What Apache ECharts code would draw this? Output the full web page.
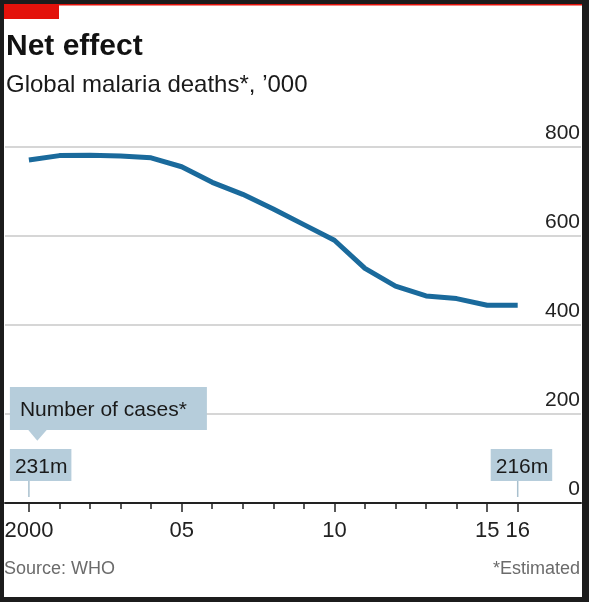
<!DOCTYPE html>
<html>
<head>
<meta charset="utf-8">
<script src="https://cdn.jsdelivr.net/npm/echarts@6/dist/echarts.min.js"></script>
<style>
  html, body { margin:0; padding:0; background:#1c1c1c; width:589px; height:602px; overflow:hidden; }
  #paper { position:absolute; left:4px; top:4px; width:578px; height:593px; background:#ffffff; }
  #chart { position:absolute; left:0; top:0; width:589px; height:602px; }
</style>
</head>
<body>
<div id="paper"></div>
<div id="chart"></div>
<script>
// ---- data ----
const years = ['2000','2001','2002','2003','2004','2005','2006','2007','2008','2009','2010','2011','2012','2013','2014','2015','2016'];
const deaths = [770, 780, 781, 779, 775, 755, 720, 693, 660, 625, 590, 527, 487, 465, 459, 444, 444];
const labeledYears = ['2000','2005','2010','2015','2016'];
const yMin = 0, yMax = 800, yStep = 200;
const titleText = 'Net effect';
const subtitleText = 'Global malaria deaths*, \u2019000';
const sourceText = 'Source: WHO';
const noteText = '*Estimated';
const casesTitle = 'Number of cases*';
const casesYears = ['2000', '2016'];
const casesLabels = ['231m', '216m'];

const FONT = '"Liberation Sans", Arial, sans-serif';
const BLUE = '#1a6a9c';
const BOX = '#b6cddb';
const RED = '#e3120b';

const chart = echarts.init(document.getElementById('chart'), null, { renderer: 'canvas' });

const option = {
  animation: false,
  backgroundColor: 'transparent',
  textStyle: { fontFamily: FONT },
  grid: [
    { left: 5, right: 8, top: 146.7, bottom: 99 },
    { left: 28.9, right: 71.3, top: 146.7, bottom: 99 }
  ],
  xAxis: [
    { gridIndex: 0, type: 'value', position: 'bottom', min: 0, max: 1,
      axisLine: { show: true, lineStyle: { color: '#222', width: 2 } },
      axisTick: { show: false }, axisLabel: { show: false }, splitLine: { show: false } },
    { gridIndex: 1, type: 'category', position: 'bottom', offset: 0, data: years, boundaryGap: false,
      axisLine: { show: false },
      axisTick: { show: true, interval: 0, length: 6, lineStyle: { color: '#222', width: 1.5 } },
      axisLabel: { show: false }, splitLine: { show: false } },
    { gridIndex: 1, type: 'category', position: 'bottom', offset: 0, data: years, boundaryGap: false,
      axisLine: { show: false },
      axisTick: { show: true, length: 9, lineStyle: { color: '#222', width: 1.5 },
        interval: (i, v) => labeledYears.indexOf(v) >= 0 },
      axisLabel: { show: true, margin: 17, fontSize: 22, color: '#222', fontFamily: FONT,
        interval: (i, v) => labeledYears.indexOf(v) >= 0,
        formatter: v => (v === '2000' ? v : v.slice(2)) },
      splitLine: { show: false } }
  ],
  yAxis: [
    { gridIndex: 0, type: 'value', position: 'right', min: yMin, max: yMax, interval: yStep,
      axisLine: { show: false }, axisTick: { show: false },
      splitLine: { show: true, showMinLine: false, lineStyle: { color: '#c8c8c8', width: 1.5 } },
      axisLabel: { inside: true, margin: 1, fontSize: 21, color: '#222', fontFamily: FONT,
        verticalAlign: 'bottom', padding: [0, 0, 3, 0] } },
    { gridIndex: 1, type: 'value', min: yMin, max: yMax, interval: yStep, show: false }
  ],
  series: [
    { type: 'line', xAxisIndex: 1, yAxisIndex: 1, data: deaths, symbol: 'none', smooth: false,
      lineStyle: { color: BLUE, width: 5, cap: 'butt', join: 'round' }, z: 5 }
  ]
};
chart.setOption(option);

// ---- annotations positioned from the axes ----
const y0 = chart.convertToPixel({ yAxisIndex: 1 }, 0);
const xa = chart.convertToPixel({ xAxisIndex: 1 }, casesYears[0]);
const xb = chart.convertToPixel({ xAxisIndex: 1 }, casesYears[1]);

const g = [];
// frame red bits
g.push({ type: 'rect', shape: { x: 4, y: 4, width: 578, height: 1.5 }, style: { fill: RED }, silent: true });
g.push({ type: 'rect', shape: { x: 4, y: 4, width: 55, height: 15 }, style: { fill: RED }, silent: true });
// titles
g.push({ type: 'text', x: 6, y: 46.8, style: { text: titleText, font: 'bold 30px ' + FONT, fill: '#121212', verticalAlign: 'middle', align: 'left' } });
g.push({ type: 'text', x: 6, y: 85.4, style: { text: subtitleText, font: '24px ' + FONT, fill: '#1a1a1a', verticalAlign: 'middle', align: 'left' } });
g.push({ type: 'text', x: 4, y: 569, style: { text: sourceText, font: '18px ' + FONT, fill: '#6b6b6b', verticalAlign: 'middle', align: 'left' } });
g.push({ type: 'text', x: 580, y: 569, style: { text: noteText, font: '18px ' + FONT, fill: '#6b6b6b', verticalAlign: 'middle', align: 'right' } });
// cases note box + pointer
g.push({ type: 'rect', shape: { x: xa - 19, y: y0 - 116, width: 197, height: 43 }, style: { fill: BOX } });
g.push({ type: 'polygon', shape: { points: [[xa - 0.6, y0 - 73], [xa + 17.8, y0 - 73], [xa + 8.4, y0 - 62.3]] }, style: { fill: BOX } });
g.push({ type: 'text', x: xa - 9, y: y0 - 92.7, style: { text: casesTitle, font: '21px ' + FONT, fill: '#1a1a1a', verticalAlign: 'middle', align: 'left' } });
// value boxes with connectors
const boxOff = [-19, -27];
[xa, xb].forEach((px, i) => {
  g.push({ type: 'line', shape: { x1: px, y1: y0 - 22, x2: px, y2: y0 - 6 }, style: { stroke: '#a9c0ce', lineWidth: 1.5 } });
  g.push({ type: 'rect', shape: { x: px + boxOff[i], y: y0 - 54, width: 61.5, height: 32 }, style: { fill: BOX } });
  g.push({ type: 'text', x: px + boxOff[i] + 5, y: y0 - 35.5, style: { text: casesLabels[i], font: '21px ' + FONT, fill: '#1a1a1a', verticalAlign: 'middle', align: 'left' } });
});
chart.setOption({ graphic: g });
</script>
</body>
</html>
